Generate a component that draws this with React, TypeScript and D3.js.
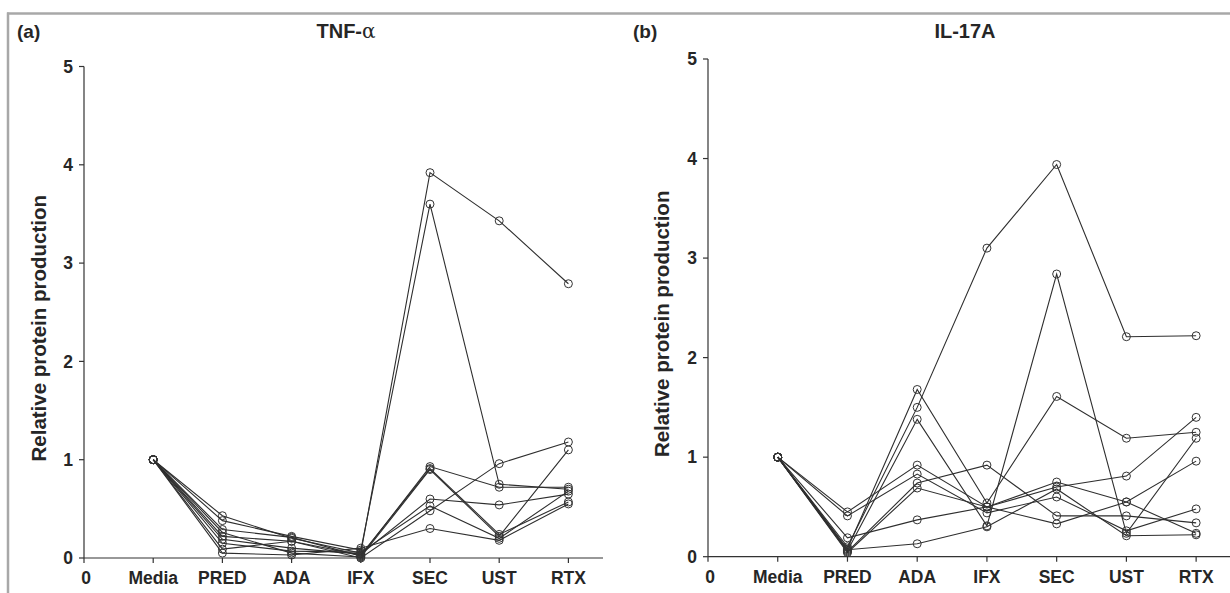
import React from "react";
import * as d3 from "d3";

// ---------- data ----------
const tickLabels = ["0", "Media", "PRED", "ADA", "IFX", "SEC", "UST", "RTX"];
const yTicks = [0, 1, 2, 3, 4, 5];

// Panel (a) TNF-alpha: one array per donor, values at Media..RTX
const tnfSeries: number[][] = [
  [1, 0.43, 0.2, 0.05, 3.92, 3.43, 2.79],
  [1, 0.38, 0.22, 0.08, 3.6, 0.75, 0.7],
  [1, 0.29, 0.21, 0.02, 0.93, 0.72, 0.72],
  [1, 0.26, 0.05, 0.01, 0.9, 0.22, 1.1],
  [1, 0.22, 0.17, 0.03, 0.91, 0.24, 0.57],
  [1, 0.19, 0.1, 0.04, 0.6, 0.54, 0.65],
  [1, 0.15, 0.07, 0.06, 0.53, 0.2, 0.68],
  [1, 0.09, 0.17, 0.0, 0.48, 0.96, 1.18],
  [1, 0.05, 0.03, 0.1, 0.3, 0.18, 0.55],
];

// Panel (b) IL-17A
const il17Series: number[][] = [
  [1, 0.08, 1.68, 0.54, 1.61, 1.19, 1.25],
  [1, 0.1, 1.5, 3.1, 3.94, 2.21, 2.22],
  [1, 0.06, 1.38, 0.31, 2.84, 0.235, 1.19],
  [1, 0.45, 0.92, 0.5, 0.7, 0.81, 1.4],
  [1, 0.41, 0.83, 0.44, 0.6, 0.26, 0.48],
  [1, 0.05, 0.74, 0.92, 0.41, 0.41, 0.34],
  [1, 0.04, 0.69, 0.5, 0.75, 0.55, 0.235],
  [1, 0.19, 0.37, 0.5, 0.33, 0.55, 0.96],
  [1, 0.07, 0.13, 0.3, 0.68, 0.21, 0.22],
];

const FONT = "'Liberation Sans', Arial, sans-serif";
const INK = "#262626";

type PanelProps = {
  series: number[][];
  x0: number;
  x1: number;
  y0: number;
  y1: number;
  letter: string;
  letterX: number;
  title: React.ReactNode;
  titleX: number;
  ylabX: number;
};

function Panel({ series, x0, x1, y0, y1, letter, letterX, title, titleX, ylabX }: PanelProps) {
  const x = d3.scaleLinear().domain([0, 7.5]).range([x0, x1]);
  const y = d3.scaleLinear().domain([0, 5]).range([y0, y1]);
  const line = d3
    .line<number>()
    .x((_, i) => x(i + 1))
    .y((d) => y(d));
  const xt = d3.range(0, 8);
  return (
    <g fontFamily={FONT} fill={INK}>
      <text x={letterX} y={38} fontSize={19} fontWeight="bold">
        {letter}
      </text>
      <text x={titleX} y={38} fontSize={20} fontWeight="bold" textAnchor="middle">
        {title}
      </text>
      {/* y axis */}
      <line x1={x0} x2={x0} y1={y(5)} y2={y(0)} stroke="#333" strokeWidth={1.2} />
      {yTicks.map((t) => (
        <g key={t}>
          <line x1={x0 - 5} x2={x0} y1={y(t)} y2={y(t)} stroke="#333" strokeWidth={1.2} />
          <text x={x0 - 11} y={y(t)} dy="0.36em" fontSize={17.5} fontWeight="bold" textAnchor="end">
            {t}
          </text>
        </g>
      ))}
      {/* x axis */}
      <line x1={x0} x2={x(7.5)} y1={y0} y2={y0} stroke="#333" strokeWidth={1.2} />
      {xt.map((t) => (
        <g key={t}>
          <line x1={x(t)} x2={x(t)} y1={y0} y2={y0 + 5} stroke="#333" strokeWidth={1.2} />
          <text x={x(t) + (t === 0 ? 2 : 0)} y={y0 + 26} fontSize={17.5} fontWeight="bold" textAnchor="middle">
            {tickLabels[t]}
          </text>
        </g>
      ))}
      <text
        transform={`translate(${ylabX},${(y(0) + y(5)) / 2 + 16}) rotate(-90)`}
        fontSize={20.5}
        fontWeight="bold"
        textAnchor="middle"
      >
        Relative protein production
      </text>
      {/* data */}
      {series.map((s, k) => (
        <path key={k} d={line(s) || ""} fill="none" stroke="#2e2e2e" strokeWidth={1.1} />
      ))}
      {series.map((s, k) =>
        s.map((v, i) => (
          <circle key={`${k}-${i}`} cx={x(i + 1)} cy={y(v)} r={4} fill="none" stroke="#333" strokeWidth={1} />
        ))
      )}
    </g>
  );
}

export default function App() {
  return (
    <div style={{ position: "fixed", left: 0, top: 0, width: 1230, height: 593, background: "#fff" }}>
      <svg width={1230} height={593} style={{ display: "block" }}>
        <rect width={1230} height={593} fill="#fff" />
        {/* frame */}
        <line x1={7} x2={1230} y1={13.5} y2={13.5} stroke="#a8a8a8" strokeWidth={2.5} />
        <line x1={8} x2={8} y1={12.5} y2={593} stroke="#a8a8a8" strokeWidth={2.5} />
        <Panel
          series={tnfSeries}
          x0={84}
          x1={603}
          y0={558}
          y1={66.5}
          letter="(a)"
          letterX={17}
          title={
            <>
              TNF-<tspan fontWeight="normal" fontFamily="'DejaVu Serif', serif">α</tspan>
            </>
          }
          titleX={346}
          ylabX={46}
        />
        <Panel
          series={il17Series}
          x0={708}
          x1={1231}
          y0={556.7}
          y1={59}
          letter="(b)"
          letterX={633}
          title="IL-17A"
          titleX={965}
          ylabX={669}
        />
      </svg>
    </div>
  );
}
